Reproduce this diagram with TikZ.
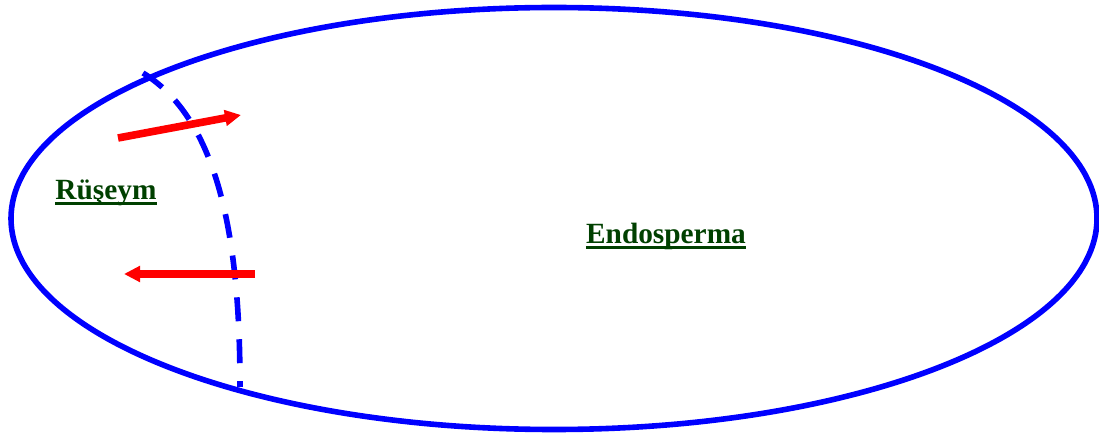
\documentclass[tikz,border=0pt]{standalone}
\usepackage{fontspec}
\setmainfont{Liberation Serif}
\usetikzlibrary{arrows.meta}
\definecolor{seedgreen}{RGB}{0,64,0}
\tikzset{
 lbl/.style={inner sep=0pt, text=seedgreen, font=\fontsize{22}{26}\selectfont\bfseries},
 uline/.style={seedgreen, line width=2.2pt},
 flow/.style={red, line width=5.7pt, -{Triangle[length=12pt,width=11.5pt]}}
}
\begin{document}
\begin{tikzpicture}[x=0.75pt,y=-0.75pt]
 \useasboundingbox (0,0) rectangle (1099,434);
 \draw[blue, line width=4.2pt] (554,218.5) ellipse [x radius=543, y radius=211];
 \draw[blue, line width=4.2pt, dash pattern=on 18pt off 13.5pt] (143,73) .. controls (223,122) and (240,252) .. (240,387);
 \node[lbl, anchor=base] (R) at (106,200) {Rüşeym};
 \node[lbl, anchor=base] (E) at (666,244) {Endosperma};
 \draw[uline] ([yshift=-2.7pt]R.base west) -- ([yshift=-2.7pt]R.base east);
 \draw[uline] ([yshift=-2.7pt]E.base west) -- ([yshift=-2.7pt]E.base east);
 \coordinate (A0) at (118,138);
 \coordinate (A1) at (241,115);
 \coordinate (B0) at (255,274);
 \coordinate (B1) at (124,274);
 \draw[flow] (A0) to (A1);
 \draw[flow] (B0) to (B1);
\end{tikzpicture}
\end{document}
